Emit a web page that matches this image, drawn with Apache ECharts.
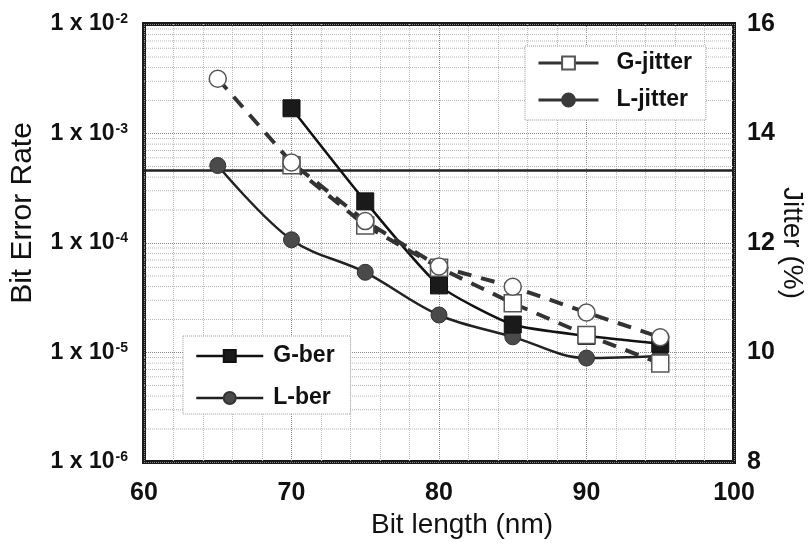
<!DOCTYPE html>
<html>
<head>
<meta charset="utf-8">
<script src="https://cdn.jsdelivr.net/npm/echarts@6/dist/echarts.min.js"></script>
<style>html,body{margin:0;padding:0;background:#fff}#c{width:812px;height:547px}</style>
</head>
<body>
<div id="c"></div>
<script>
// ---- data ----
var bitLength = [65, 70, 75, 80, 85, 90, 95];
var gBer = [null, 1.7e-3, 2.4e-4, 4.1e-5, 1.8e-5, 1.42e-5, 1.2e-5];
var lBer = [5.1e-4, 1.07e-4, 5.4e-5, 2.2e-5, 1.39e-5, 8.9e-6, 9.3e-6];
var gJitter = [null, 13.42, 12.32, 11.55, 10.9, 10.32, 9.8];
var lJitter = [15.0, 13.47, 12.4, 11.57, 11.2, 10.73, 10.28];
var berThreshold = 4.6e-4;
var berTicks = [1e-6, 1e-5, 1e-4, 1e-3, 1e-2];
var jitterTicks = [8, 10, 12, 14, 16];
var xTicks = [60, 70, 80, 90, 100];

var FONT = '"Liberation Sans", Arial, sans-serif';
var X0 = xTicks[0], X1 = xTicks[xTicks.length - 1];
function pairs(ys) { return bitLength.map(function (x, i) { return [x, ys[i]]; }).filter(function (p) { return p[1] != null; }); }

// minor log gridlines (2..9 in each decade), drawn as broken line segments
var minorGrid = [];
for (var d = -6; d < -2; d++) {
  for (var m = 2; m <= 9; m++) {
    var v = m * Math.pow(10, d);
    minorGrid.push([X0, v], [X1, v], [X1, '-']);
  }
}

var chart = echarts.init(document.getElementById('c'), null, { renderer: 'canvas' });
var legendText = { fontSize: 23, fontWeight: 'bold', color: '#111', fontFamily: FONT, lineHeight: 24 };
var option = {
  backgroundColor: '#fff',
  animation: false,
  textStyle: { fontFamily: FONT },
  grid: { left: 144, right: 78, top: 24, bottom: 85, show: true, borderColor: '#1a1a1a', borderWidth: 4, backgroundColor: 'transparent', containLabel: false, outerBoundsMode: 'none' },
  legend: [
    {
      data: [
        { name: 'G-jitter', lineStyle: { type: 'solid', width: 3 } },
        { name: 'L-jitter', lineStyle: { type: 'solid', width: 3 }, itemStyle: { color: '#3a3a3a', borderColor: '#3a3a3a' } }
      ],
      orient: 'vertical', left: 525, top: 46, itemGap: 13, itemWidth: 60, itemHeight: 16,
      padding: [5, 14, 8, 12], borderColor: '#999', borderWidth: 1, borderType: 'dotted', backgroundColor: '#fff',
      textStyle: Object.assign({ padding: [0, 0, 0, 13] }, legendText)
    },
    {
      data: [
        { name: 'G-ber', lineStyle: { width: 2.5 } },
        { name: 'L-ber', lineStyle: { width: 2.5 } }
      ],
      orient: 'vertical', left: 183, top: 336, itemGap: 18, itemWidth: 67, itemHeight: 15,
      padding: [8, 16, 4, 12], borderColor: '#999', borderWidth: 1, borderType: 'dotted', backgroundColor: '#fff',
      textStyle: Object.assign({ padding: [0, 0, 0, 5] }, legendText)
    }
  ],
  xAxis: {
    type: 'value', min: X0, max: X1, interval: 10,
    name: 'Bit length (nm)', nameLocation: 'middle', nameGap: 48,
    nameTextStyle: { fontSize: 28, color: '#111', fontFamily: FONT, padding: [0, 0, 0, 46] },
    axisLine: { show: false }, axisTick: { show: false },
    axisLabel: { fontSize: 25, fontWeight: 'bold', color: '#111', margin: 19, fontFamily: FONT },
    splitLine: { show: true, lineStyle: { color: '#888', type: 'dotted', width: 1 } },
    minorTick: { show: false, splitNumber: 5 },
    minorSplitLine: { show: true, lineStyle: { color: '#bbb', type: 'dotted', width: 1 } }
  },
  yAxis: [
    {
      type: 'log', logBase: 10, min: berTicks[0], max: berTicks[berTicks.length - 1],
      name: 'Bit Error Rate', nameLocation: 'middle', nameGap: 106, nameRotate: 90,
      nameTextStyle: { fontSize: 30, color: '#111', fontFamily: FONT, padding: [0, 0, 0, 60] },
      axisLine: { show: false }, axisTick: { show: false },
      axisLabel: {
        margin: 16, color: '#111',
        formatter: function (v) { return '{b|1 x 10}{s|' + Math.round(Math.log10(v)) + '}'; },
        rich: {
          b: { fontSize: 23, fontWeight: 'bold', color: '#111', fontFamily: FONT },
          s: { fontSize: 14, fontWeight: 'bold', color: '#111', fontFamily: FONT, verticalAlign: 'top', padding: [0, 0, 9, 1] }
        }
      },
      splitLine: { show: true, lineStyle: { color: '#888', type: 'dotted', width: 1 } }
    },
    {
      type: 'value', min: jitterTicks[0], max: jitterTicks[jitterTicks.length - 1], interval: 2,
      name: 'Jitter (%)', nameLocation: 'middle', nameGap: 44, nameRotate: -90, nameMoveOverlap: false,
      nameTextStyle: { fontSize: 28, color: '#111', fontFamily: FONT },
      axisLine: { show: false }, axisTick: { show: false }, splitLine: { show: false },
      axisLabel: { fontSize: 25, fontWeight: 'bold', color: '#111', margin: 13, fontFamily: FONT }
    }
  ],
  series: [
    {
      name: 'grid-minor', type: 'line', yAxisIndex: 0, data: minorGrid, silent: true, z: 1,
      symbol: 'none', connectNulls: false,
      lineStyle: { color: '#b5b5b5', type: 'dotted', width: 1 }
    },
    {
      name: 'threshold', type: 'line', yAxisIndex: 0, data: [[X0, berThreshold], [X1, berThreshold]], silent: true, z: 2,
      symbol: 'none', lineStyle: { color: '#222', width: 2.5 }
    },
    {
      name: 'L-ber', type: 'line', yAxisIndex: 0, data: pairs(lBer), smooth: 0.35, z: 3,
      symbol: 'circle', symbolSize: 16,
      lineStyle: { color: '#222', width: 2.5 },
      itemStyle: { color: '#4a4a4a', borderColor: '#333', borderWidth: 1 }
    },
    {
      name: 'G-ber', type: 'line', yAxisIndex: 0, data: pairs(gBer), smooth: 0.2, z: 3,
      symbol: 'rect', symbolSize: 17,
      lineStyle: { color: '#111', width: 2.5 },
      itemStyle: { color: '#1a1a1a', borderColor: '#111', borderWidth: 1 }
    },
    {
      name: 'G-jitter', type: 'line', yAxisIndex: 1, data: pairs(gJitter), z: 4,
      symbol: 'rect', symbolSize: 17,
      lineStyle: { color: '#333', width: 4, type: [14, 10] },
      itemStyle: { color: '#fff', borderColor: '#555', borderWidth: 1.5 }
    },
    {
      name: 'L-jitter', type: 'line', yAxisIndex: 1, data: pairs(lJitter), z: 4,
      symbol: 'circle', symbolSize: 17,
      lineStyle: { color: '#333', width: 4, type: [14, 10] },
      itemStyle: { color: '#fff', borderColor: '#555', borderWidth: 1.5 }
    }
  ]
};
chart.setOption(option);
</script>
</body>
</html>
